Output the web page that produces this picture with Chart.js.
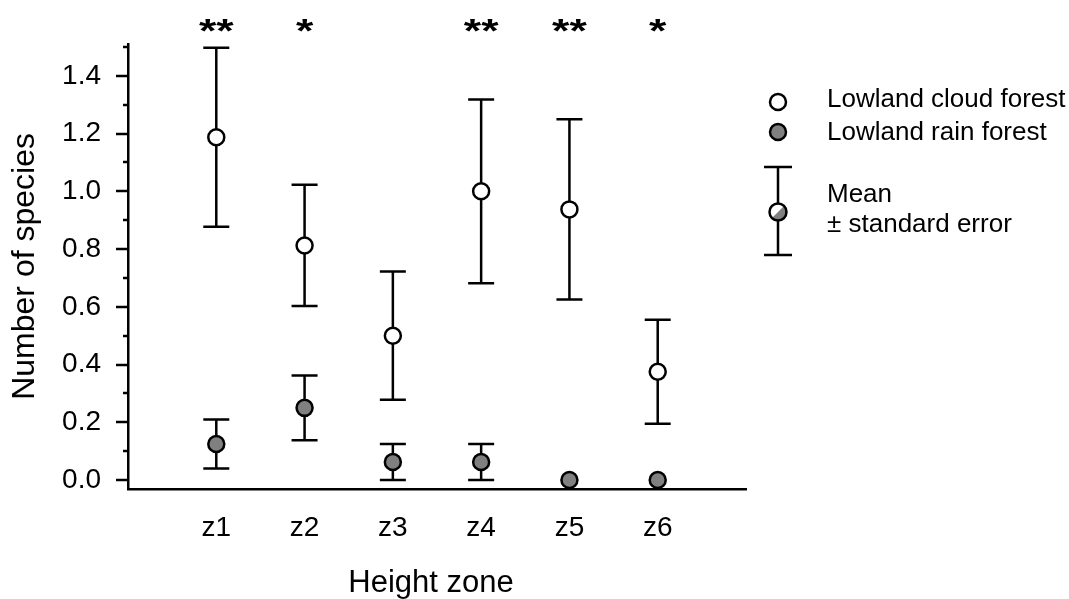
<!DOCTYPE html>
<html><head><meta charset="utf-8">
<script src="https://cdn.jsdelivr.net/npm/chart.js@4.4.1/dist/chart.umd.min.js"></script>
<style>html,body{margin:0;padding:0;background:#fff;overflow:hidden}#wrap{width:1069px;height:599px;position:relative}</style>
</head><body><div id="wrap"><canvas id="c" width="1069" height="599"></canvas></div>
<script>
const categories = ['z1', 'z2', 'z3', 'z4', 'z5', 'z6'];
const cloudMean = [1.1875, 0.8125, 0.5, 1.0, 0.9375, 0.375];
const cloudSE   = [0.31, 0.21, 0.222, 0.318, 0.312, 0.18];
const rainMean  = [0.125, 0.25, 0.0625, 0.0625, 0, 0];
const rainSE    = [0.085, 0.112, 0.0625, 0.0625, 0, 0];
const significance = ['**', '*', '', '**', '**', '*'];
const seriesNames = ['Lowland cloud forest', 'Lowland rain forest'];
const xTitle = 'Height zone';
const yTitle = 'Number of species';
const legendNote = ['Mean', '\u00b1 standard error'];

const FONT = '"Liberation Sans", Arial, sans-serif';
Chart.defaults.font.family = FONT;
Chart.defaults.color = '#000';

const GRAY = '#808080';
const LW = 2.5;

const errorBars = {
  id: 'errorBars',
  beforeDatasetsDraw(chart) {
    const ctx = chart.ctx, xs = chart.scales.x, ys = chart.scales.y;
    ctx.save();
    ctx.strokeStyle = '#000'; ctx.lineWidth = LW; ctx.lineCap = 'butt';
    chart.data.datasets.forEach(ds => {
      ds.data.forEach((p, i) => {
        const se = ds.se[i];
        if (!se) return;
        const x = xs.getPixelForValue(p.x);
        const yt = ys.getPixelForValue(p.y + se);
        const yb = ys.getPixelForValue(Math.max(0, p.y - se));
        ctx.beginPath();
        ctx.moveTo(x, yt); ctx.lineTo(x, yb);
        ctx.moveTo(x - 13, yt); ctx.lineTo(x + 13, yt);
        ctx.moveTo(x - 13, yb); ctx.lineTo(x + 13, yb);
        ctx.stroke();
      });
    });
    ctx.restore();
  }
};

const decor = {
  id: 'decor',
  afterDraw(chart) {
    const ctx = chart.ctx, xs = chart.scales.x, ys = chart.scales.y;
    const area = chart.chartArea;
    ctx.save();
    ctx.strokeStyle = '#000'; ctx.lineWidth = LW;
    ys.ticks.forEach(t => {
      const y = Math.round(ys.getPixelForValue(t.value));
      const major = Math.round(t.value * 10) % 2 === 0;
      ctx.beginPath();
      ctx.moveTo(area.left, y); ctx.lineTo(area.left - (major ? 12 : 5), y);
      ctx.stroke();
    });
    ctx.fillStyle = '#000';
    ctx.font = 'bold 33px ' + FONT;
    ctx.textAlign = 'center'; ctx.textBaseline = 'alphabetic';
    significance.forEach((s, i) => {
      if (!s) return;
      ctx.save();
      ctx.translate(xs.getPixelForValue(i + 1), 42);
      ctx.scale(1.35, 1);
      ctx.fillText(s, 0, 0);
      ctx.restore();
    });
    ctx.font = '31px ' + FONT;
    ctx.fillText(xTitle, 431, 592);
    ctx.save();
    ctx.font = '32px ' + FONT;
    ctx.translate(34, (area.top + area.bottom) / 2);
    ctx.rotate(-Math.PI / 2);
    ctx.fillText(yTitle, 0, 0);
    ctx.restore();
    const lx = 778, tx = 827;
    const circ = (cx, cy, fill) => {
      ctx.beginPath(); ctx.arc(cx, cy, 8, 0, Math.PI * 2);
      ctx.fillStyle = fill; ctx.fill();
      ctx.lineWidth = LW; ctx.strokeStyle = '#000'; ctx.stroke();
    };
    circ(lx, 102, '#fff');
    circ(lx, 132, GRAY);
    ctx.fillStyle = '#000';
    ctx.font = '26px ' + FONT;
    ctx.textAlign = 'left';
    ctx.fillText(seriesNames[0], tx, 107);
    ctx.fillText(seriesNames[1], tx, 140);
    ctx.beginPath();
    ctx.lineWidth = LW;
    ctx.moveTo(lx, 167); ctx.lineTo(lx, 255);
    ctx.moveTo(lx - 14, 167); ctx.lineTo(lx + 14, 167);
    ctx.moveTo(lx - 14, 255); ctx.lineTo(lx + 14, 255);
    ctx.stroke();
    const cy = 212;
    ctx.beginPath(); ctx.arc(lx, cy, 8.5, 0, Math.PI * 2); ctx.fillStyle = '#fff'; ctx.fill();
    ctx.beginPath(); ctx.arc(lx, cy, 8.5, -Math.PI / 4, 3 * Math.PI / 4); ctx.closePath();
    ctx.fillStyle = GRAY; ctx.fill();
    ctx.beginPath(); ctx.arc(lx, cy, 8.5, 0, Math.PI * 2); ctx.strokeStyle = '#000'; ctx.stroke();
    ctx.fillStyle = '#000';
    ctx.fillText(legendNote[0], tx, 202);
    ctx.fillText(legendNote[1], tx, 232);
    ctx.restore();
  }
};

new Chart(document.getElementById('c'), {
  type: 'scatter',
  data: {
    datasets: [
      {
        label: seriesNames[0],
        data: cloudMean.map((v, i) => ({ x: i + 1, y: v })),
        se: cloudSE,
        backgroundColor: '#fff', borderColor: '#000',
        pointRadius: 8, pointBorderWidth: LW, pointHoverRadius: 8, clip: false
      },
      {
        label: seriesNames[1],
        data: rainMean.map((v, i) => ({ x: i + 1, y: v })),
        se: rainSE,
        backgroundColor: GRAY, borderColor: '#000',
        pointRadius: 8, pointBorderWidth: LW, pointHoverRadius: 8, clip: false
      }
    ]
  },
  options: {
    responsive: false, animation: false, devicePixelRatio: 1, events: [],
    layout: { padding: { left: 0, top: 42, right: 323, bottom: 0 } },
    plugins: { legend: { display: false }, tooltip: { enabled: false } },
    scales: {
      x: {
        type: 'linear', min: 0, max: 7,
        afterFit(s) { s.height = 110; },
        grid: { display: false, drawTicks: false },
        border: { display: true, color: '#000', width: LW },
        ticks: {
          stepSize: 1, autoSkip: false, maxRotation: 0, padding: 22,
          font: { size: 28 }, color: '#000',
          callback: v => categories[v - 1] || ''
        }
      },
      y: {
        type: 'linear', min: -0.031, max: 1.511,
        afterFit(s) { s.width = 128; },
        grid: { display: false, drawTicks: false },
        border: { display: true, color: '#000', width: LW },
        ticks: {
          stepSize: 0.1, includeBounds: false, autoSkip: false, padding: 27,
          font: { size: 28 }, color: '#000',
          callback: v => (Math.round(v * 10) % 2 === 0 ? v.toFixed(1) : '')
        }
      }
    }
  },
  plugins: [errorBars, decor]
});
</script></body></html>
